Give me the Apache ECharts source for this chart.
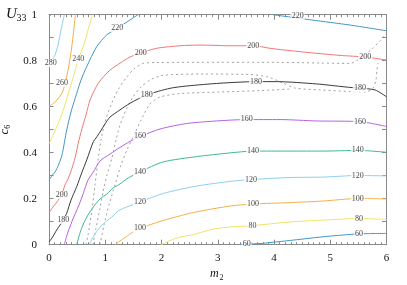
<!DOCTYPE html>
<html><head><meta charset="utf-8">
<script src="https://cdn.jsdelivr.net/npm/echarts@6/dist/echarts.min.js"></script>
<style>html,body{margin:0;padding:0;background:#fff}#c{width:407px;height:285px}</style>
</head><body><div id="c"></div>
<script>
// x = m2, y = c6 ; contour lines of U33
const xTicks = [0,1,2,3,4,5,6];
const yTicks = [0,0.2,0.4,0.6,0.8,1];

const c300 = [[0,0.99],[0.035,1]];
const c280 = [[0.272,1],[0.213,0.933],[0.16,0.868],[0.107,0.825],[0.053,0.803],[0,0.79]];
const c260 = [[0.47,1],[0.43,0.912],[0.385,0.825],[0.32,0.738],[0.24,0.664],[0.142,0.629],[0.053,0.61],[0,0.6]];
const c240 = [[0.773,1],[0.693,0.933],[0.61,0.861],[0.521,0.806],[0.427,0.725],[0.343,0.658],[0.254,0.586],[0.165,0.528],[0.089,0.486],[0,0.438]];
const c220a = [[0,0.28],[0.053,0.3],[0.107,0.316],[0.169,0.347],[0.231,0.39],[0.315,0.499],[0.391,0.577],[0.492,0.658],[0.569,0.716],[0.67,0.774],[0.848,0.861],[1.026,0.912],[1.214,0.941],[1.44,0.977],[1.582,1]];
const c220b = [[3.982,1],[4.67,0.977],[5.351,0.955],[6,0.93]];
const c200 = [[0,0.138],[0.071,0.164],[0.142,0.186],[0.226,0.216],[0.284,0.26],[0.343,0.289],[0.409,0.333],[0.462,0.376],[0.533,0.455],[0.604,0.52],[0.658,0.564],[0.729,0.629],[0.876,0.702],[1.084,0.759],[1.262,0.789],[1.44,0.816],[1.63,0.833],[1.915,0.854],[2.329,0.865],[2.684,0.868],[3.218,0.865],[3.632,0.865],[3.929,0.854],[4.165,0.847],[4.759,0.832],[5.172,0.823],[5.618,0.816],[6,0.803]];
const c180 = [[0,0.012],[0.053,0.029],[0.137,0.064],[0.254,0.107],[0.315,0.137],[0.391,0.194],[0.492,0.252],[0.581,0.312],[0.67,0.368],[0.788,0.448],[0.836,0.464],[0.907,0.49],[0.996,0.525],[1.084,0.555],[1.262,0.586],[1.44,0.615],[1.737,0.651],[2.151,0.68],[2.448,0.69],[3.04,0.702],[3.68,0.709],[4.048,0.709],[4.759,0.699],[5.262,0.686],[5.529,0.68],[5.796,0.673],[6,0.643]];
const c160 = [[0.272,0],[0.32,0.042],[0.404,0.099],[0.533,0.173],[0.61,0.223],[0.693,0.281],[0.788,0.316],[0.907,0.364],[1.084,0.394],[1.262,0.423],[1.44,0.449],[1.618,0.47],[1.973,0.503],[2.448,0.527],[3.04,0.539],[3.515,0.544],[4.107,0.544],[4.759,0.538],[5.529,0.535],[6,0.514]];
const c140 = [[0.492,0],[0.551,0.051],[0.61,0.09],[0.693,0.129],[0.788,0.164],[0.907,0.199],[1.026,0.22],[1.143,0.247],[1.262,0.264],[1.381,0.286],[1.618,0.317],[2.032,0.36],[2.626,0.383],[3.218,0.399],[3.627,0.407],[4.284,0.407],[4.876,0.407],[5.493,0.41],[6,0.402]];
const c120 = [[0.716,0],[0.782,0.033],[0.848,0.057],[0.924,0.081],[1.026,0.103],[1.138,0.125],[1.232,0.147],[1.381,0.164],[1.618,0.186],[2.032,0.223],[2.626,0.255],[3.218,0.275],[3.591,0.283],[4.284,0.292],[4.876,0.294],[5.493,0.301],[6,0.299]];
const c100 = [[1.173,0],[1.262,0.016],[1.381,0.036],[1.493,0.055],[1.618,0.071],[1.973,0.101],[2.565,0.14],[3.218,0.168],[3.627,0.177],[4.284,0.183],[4.876,0.19],[5.493,0.201],[6,0.199]];
const c80 = [[1.991,0],[2.151,0.018],[2.329,0.033],[2.565,0.044],[2.92,0.068],[3.218,0.077],[3.618,0.083],[4.284,0.099],[4.876,0.107],[5.511,0.114],[6,0.11]];
const c60 = [[3.396,0],[3.515,0.003],[3.751,0.005],[4.343,0.02],[4.937,0.036],[5.511,0.047],[6,0.049]];

// dotted boundary curves
const dots1 = [[0.658,0],[0.693,0.042],[0.764,0.151],[0.818,0.26],[0.871,0.368],[0.924,0.455],[0.996,0.534],[1.102,0.608],[1.227,0.673],[1.369,0.725],[1.511,0.764],[1.671,0.788],[1.884,0.792],[2.684,0.793],[3.929,0.793],[4.818,0.79],[5.351,0.788],[5.564,0.816],[5.742,0.851],[5.884,0.886],[6,0.92]];
const dots2 = [[0.782,0],[0.836,0.073],[0.907,0.16],[0.96,0.229],[1.031,0.303],[1.12,0.377],[1.191,0.455],[1.262,0.52],[1.369,0.586],[1.493,0.642],[1.636,0.686],[1.796,0.716],[2.009,0.736],[2.684,0.742],[3.573,0.74],[3.893,0.729],[4.16,0.703],[4.373,0.681],[4.818,0.673],[5.351,0.666],[5.636,0.664],[5.76,0.681],[5.813,0.716],[5.831,0.76],[5.849,0.79]];
const dots3 = [[0.907,0],[0.978,0.086],[1.067,0.173],[1.173,0.26],[1.28,0.347],[1.387,0.412],[1.511,0.477],[1.636,0.542],[1.796,0.612],[1.973,0.642],[2.329,0.657],[3.04,0.664],[3.751,0.67],[4.284,0.677]];

const contourLabels = [
 [0.03,0.79,'280'],[0.23,0.703,'260'],[0.52,0.806,'240'],
 [1.214,0.941,'220'],[4.42,0.995,'220'],
 [0.226,0.216,'200'],[1.63,0.834,'200'],[3.63,0.865,'200'],[5.62,0.816,'200'],
 [0.254,0.107,'180'],[1.737,0.651,'180'],[3.68,0.709,'180'],[5.53,0.68,'180'],
 [1.618,0.472,'160'],[3.515,0.546,'160'],[5.53,0.535,'160'],
 [1.618,0.317,'140'],[3.627,0.407,'140'],[5.49,0.41,'140'],
 [1.618,0.186,'120'],[3.59,0.283,'120'],[5.49,0.301,'120'],
 [1.618,0.071,'100'],[3.627,0.177,'100'],[5.49,0.201,'100'],
 [3.618,0.083,'80'],[5.51,0.114,'80'],
 [3.515,0.004,'60'],[5.51,0.047,'60']
];

const colLightBlue = '#8ccfee', colOrange = '#f2b04c', colYellow = '#efe36a',
      colBlue = '#4196c9', colRed = '#f07878', colBlack = '#3a3a3a',
      colPurple = '#b462e2', colGreen = '#3fb98e';

const lines = [
 [c300, colGreen],[c280, colLightBlue],[c260, colOrange],[c240, colYellow],
 [c220a, colBlue],[c220b, colBlue],[c200, colRed],[c180, colBlack],
 [c160, colPurple],[c140, colGreen],[c120, colLightBlue],[c100, colOrange],
 [c80, colYellow],[c60, colBlue]
];
const serif = '"Liberation Serif", "DejaVu Serif", serif';
const series = lines.map(([d,c]) => ({
  type:'line', data:d, showSymbol:false, smooth:0.25, clip:true, silent:true,
  lineStyle:{color:c, width:1}, z:3
}));
[dots1,dots2,dots3].forEach(d => series.push({
  type:'line', data:d, showSymbol:false, smooth:0.25, clip:true, silent:true,
  lineStyle:{color:'#a0a0a0', width:1, type:[2,3]}, z:2
}));
series.push({
  type:'scatter', data:contourLabels, symbolSize:0, z:10, silent:true,
  label:{show:true, position:'inside', formatter:p=>p.value[2], color:'#111',
    fontFamily:serif, fontSize:8, backgroundColor:'#fff', padding:[0,1,0,1]}
});

const axisCommon = {
  min:0, max:6, interval:1,
  axisLine:{show:true, onZero:false, lineStyle:{color:'#8a8a8a', width:1}},
  axisTick:{show:true, inside:true, length:5, lineStyle:{color:'#8a8a8a'}},
  minorTick:{show:true, inside:true, splitNumber:10, length:2.5, lineStyle:{color:'#8a8a8a'}},
  splitLine:{show:false}
};
const yCommon = {
  min:0, max:1, interval:0.1,
  axisLine:{show:true, onZero:false, lineStyle:{color:'#8a8a8a', width:1}},
  axisTick:{show:true, inside:true, length:4.5, lineStyle:{color:'#8a8a8a'}},
  splitLine:{show:false}
};

const option = {
  animation:false,
  backgroundColor:'#fff',
  grid:{left:49, right:20.5, top:14.7, bottom:40.3, containLabel:false, outerBoundsMode:'none'},
  xAxis:[
    Object.assign({}, axisCommon, {type:'value', position:'bottom',
      axisLabel:{show:true, color:'#111', fontFamily:serif, fontSize:11, margin:8}}),
    Object.assign({}, axisCommon, {type:'value', position:'top', axisLabel:{show:false}})
  ],
  yAxis:[
    Object.assign({}, yCommon, {type:'value', position:'left',
      name:'{c|c}{s|6}', nameLocation:'middle', nameGap:30, nameRotate:90,
      nameTextStyle:{rich:{
        c:{fontFamily:serif, fontStyle:'italic', fontSize:13, lineHeight:16, color:'#111'},
        s:{fontFamily:serif, fontSize:8, lineHeight:16, verticalAlign:'bottom', color:'#111'}}},
      axisLabel:{show:true, color:'#111', fontFamily:serif, fontSize:11, margin:12,
        formatter:v=>{const k=Math.round(v*10); if(k%2) return ''; return k===0?'0':(k===10?'1':(k/10).toFixed(1));}}}),
    Object.assign({}, yCommon, {type:'value', position:'right', axisLabel:{show:false}})
  ],
  graphic:[
    {type:'text', left:6, top:7, style:{text:'U', font:'italic 15px '+serif, fill:'#111'}},
    {type:'text', left:16.5, top:13, style:{text:'33', font:'10px '+serif, fill:'#111'}},
    {type:'text', left:210, top:268, style:{text:'m', font:'italic 12px '+serif, fill:'#111'}},
    {type:'text', left:219.5, top:274, style:{text:'2', font:'8px '+serif, fill:'#111'}}
  ],
  series
};
const chart = echarts.init(document.getElementById('c'), null, {renderer:'canvas'});
chart.setOption(option);
</script></body></html>
